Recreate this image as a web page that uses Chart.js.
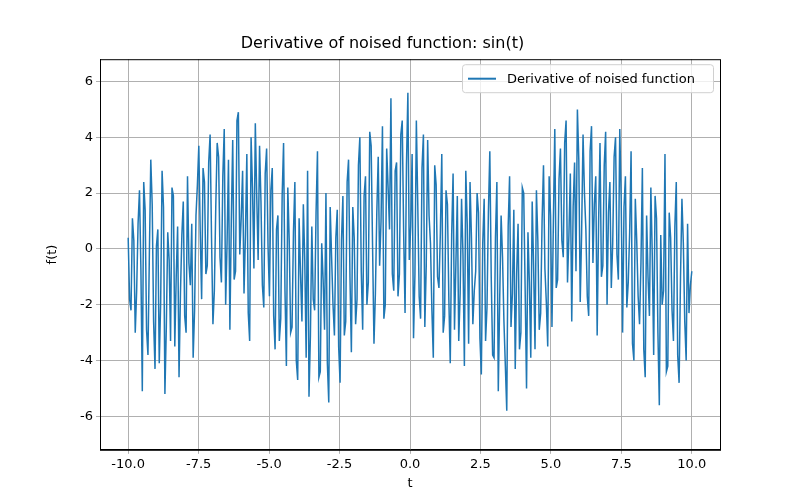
<!DOCTYPE html>
<html>
<head>
<meta charset="utf-8">
<script src="https://cdn.jsdelivr.net/npm/chart.js@4/dist/chart.umd.min.js"></script>
<style>
  body { margin: 0; background: #fff; }
  #wrap { width: 800px; height: 500px; }
</style>
</head>
<body>
<div id="wrap"><canvas id="c" width="800" height="500"></canvas></div>
<script>
// Derivative of noised sin(t)
const tStart = -10;
const tEnd = 10;
const seriesLabel = 'Derivative of noised function';
const xTicks = [-10, -7.5, -5, -2.5, 0, 2.5, 5, 7.5, 10];
const yTicks = [-6, -4, -2, 0, 2, 4, 6];

// even samples
const seg1 = [0.4,-2.2,0.3,-1.5,2.1,-5.1,1.4,-3.8,3.2,-2.6,0.1,-4.1,2.8,-5.2,0.6,-3.3,1.9,-1.0,-4.6,0.5,-2.4,2.6,-1.3,-3.9,1.2];
const seg2 = [3.7,-1.8,2.4,-0.6,4.1,-2.7,1.5,3.3,-1.2,4.3,0.2,-2.9,3.9,-0.8,4.9,1.1,-1.6,3.4,-3.3,2.2,4.5,-0.4,1.7,-2.1,3.6];
const seg3 = [-1.7,2.9,-3.6,1.2,-2.5,3.8,-4.2,0.3,-2.8,2.4,-4.7,-0.9,1.6,-3.9,-5.3,0.8,-2.2,3.5,-4.4,-1.1,2.0,-5.5,-0.3,-3.1,1.4];
const seg4 = [-4.8,1.9,-2.6,3.2,-3.7,0.4,-1.8,4.0,-2.9,2.6,-1.2,3.7,-3.4,1.3,-0.6,4.4,-2.0,2.2,5.4,-1.5,3.1,-0.9,4.6,-2.3,5.6];
const seg5 = [0.8,-3.2,4.6,-1.7,2.9,-2.8,3.9,0.2,-3.9,2.3,-1.4,3.4,-2.4,1.6,-4.1,2.7,-0.5,-3.3,1.8,-4.2,0.9,2.4,-2.7,-0.8,1.3];
const seg6 = [-4.5,1.8,-2.1,3.5,-3.8,0.4,-5.1,1.2,-2.6,-5.8,2.6,-1.6,-4.3,0.9,-3.0,2.0,-5.0,-1.2,1.7,-3.6,0.3,-2.3,3.0,-1.9,2.6];
const seg7 = [-2.8,4.3,-1.1,3.6,-0.3,4.6,0.5,-2.6,3.1,5.0,-1.9,4.1,0.7,-2.4,4.4,1.6,-3.1,3.8,-0.6,4.2,1.3,-1.4,3.3,-0.2,4.3];
const seg8 = [-3.0,2.6,-1.2,3.5,-4.0,0.3,-2.7,2.9,-4.6,-1.0,2.2,-3.8,1.1,-5.6,-2.0,3.4,-4.2,0.4,-3.3,2.4,-4.8,1.8,-2.6,0.9,-1.3];

// odd samples
const segB1 = [-1.8,1.1,-3.0,0.9,-0.7,2.4,-2.9,-0.2,1.6,-4.3,0.7,-1.9,1.5,-2.8,-0.4,2.2,-3.5,0.8,-1.6,1.7,-3.0,-0.5,0.9,-2.2,2.3];
const segB2 = [0.6,2.9,-0.9,3.1,0.4,-1.5,3.8,-0.3,2.6,-2.0,3.2,1.0,-1.1,4.6,-0.2,2.8,0.5,-2.3,4.0,-0.7,1.9,3.7,-1.3,2.7,0.1];
const segB3 = [2.1,-2.4,0.7,-3.3,1.9,-1.5,2.2,-3.0,0.6,-4.0,1.1,-2.6,-0.4,2.8,-3.1,-1.8,1.3,-4.6,0.2,-2.9,-4.1,1.5,-2.0,0.4,-3.5];
const segB4 = [0.3,-3.1,2.4,-1.0,1.5,-2.7,3.0,-0.8,1.9,-2.0,4.2,0.1,-1.6,3.3,1.0,-2.5,3.6,0.7,-0.9,2.8,-1.7,4.1,0.6,3.0,-0.4];
const segB5 = [3.4,-0.9,1.6,-2.5,4.1,-0.6,1.2,-2.2,3.0,-1.0,0.6,-3.0,2.1,-1.8,0.5,-2.9,1.9,-1.6,-0.2,2.8,-3.4,0.4,-1.5,2.0,-3.2];
const segB6 = [0.2,-3.3,1.3,-1.0,-3.9,2.4,-1.8,-0.3,-4.2,0.8,-2.8,1.4,-0.9,-3.6,2.2,-1.4,0.6,-3.9,-0.6,2.1,-2.9,1.0,-0.7,-3.5,1.2];
const segB7 = [1.0,-1.4,2.5,0.3,3.8,-1.2,2.7,1.5,-0.8,3.2,0.6,2.0,-1.7,3.5,-0.5,2.6,0.9,-1.0,3.0,-2.0,2.4,0.2,4.0,-1.1,1.8];
const segB8 = [1.5,-2.1,0.6,-3.4,1.8,-1.7,-0.5,-3.6,1.2,-2.4,-0.2,1.9,-3.0,0.5,-1.5,-4.4,1.3,-2.2,0.8,-3.8,-1.0,0.2,-4.0,-2.3,-0.8];

const evenVals = [].concat(seg1, seg2, seg3, seg4, seg5, seg6, seg7, seg8);
const oddVals = [].concat(segB1, segB2, segB3, segB4, segB5, segB6, segB7, segB8);
const values = [];
evenVals.forEach((v, i) => { values.push(v, oddVals[i]); });

const step = (tEnd - tStart) / (values.length - 1);
const points = values.map((v, i) => ({ x: tStart + i * step, y: v }));

const FONT = 'DejaVu Sans';
Chart.defaults.font.family = FONT;
Chart.defaults.color = '#000';

const frameAndLegend = {
  id: 'frameAndLegend',
  afterDraw(chart) {
    const { ctx, chartArea } = chart;
    ctx.save();
    ctx.strokeStyle = '#000';
    ctx.lineWidth = 1;
    ctx.strokeRect(chartArea.left + 0.5, chartArea.top + 0.5,
      chartArea.right - chartArea.left, chartArea.bottom - chartArea.top);

    const w = 251, h = 28;
    const x = chartArea.right - w - 7, y = chartArea.top + 5;
    ctx.fillStyle = 'rgba(255,255,255,0.8)';
    ctx.strokeStyle = '#d0d0d0';
    ctx.beginPath();
    ctx.roundRect(x + 0.5, y + 0.5, w, h, 3);
    ctx.fill();
    ctx.stroke();
    ctx.strokeStyle = '#1f77b4';
    ctx.lineWidth = 2;
    ctx.beginPath();
    ctx.moveTo(x + 6, y + 14.5);
    ctx.lineTo(x + 34, y + 14.5);
    ctx.stroke();
    ctx.fillStyle = '#000';
    ctx.font = '13px ' + FONT;
    ctx.textBaseline = 'middle';
    ctx.fillText(seriesLabel, x + 45, y + 15);
    ctx.restore();
  }
};

new Chart(document.getElementById('c'), {
  type: 'line',
  data: {
    datasets: [{
      label: seriesLabel,
      data: points,
      borderColor: '#1f77b4',
      borderWidth: 1.5,
      pointRadius: 0,
      tension: 0
    }]
  },
  options: {
    responsive: false,
    animation: false,
    layout: { padding: { left: 45, right: 80, top: 0, bottom: 9 } },
    scales: {
      x: {
        type: 'linear',
        min: -11, max: 11,
        afterBuildTicks: (s) => { s.ticks = xTicks.map((v) => ({ value: v })); },
        ticks: { font: { size: 13 }, callback: (v) => v.toFixed(1), maxRotation: 0 },
        grid: { color: '#b0b0b0', tickLength: 4 },
        border: { color: '#000' },
        title: { display: true, text: 't', font: { size: 13 }, padding: 0 }
      },
      y: {
        min: -7.2, max: 6.8,
        afterBuildTicks: (s) => { s.ticks = yTicks.map((v) => ({ value: v })); },
        afterFit: (s) => { s.width = 55; },
        ticks: { font: { size: 13 } },
        grid: { color: '#b0b0b0', tickLength: 4 },
        border: { color: '#000' },
        title: { display: true, text: 'f(t)', font: { size: 13 }, padding: 0 }
      }
    },
    plugins: {
      legend: { display: false },
      tooltip: { enabled: false },
      title: {
        display: true,
        text: 'Derivative of noised function: sin(t)',
        font: { size: 16, weight: 'normal' },
        padding: { top: 34, bottom: 6 }
      }
    }
  },
  plugins: [frameAndLegend]
});
</script>
</body>
</html>
